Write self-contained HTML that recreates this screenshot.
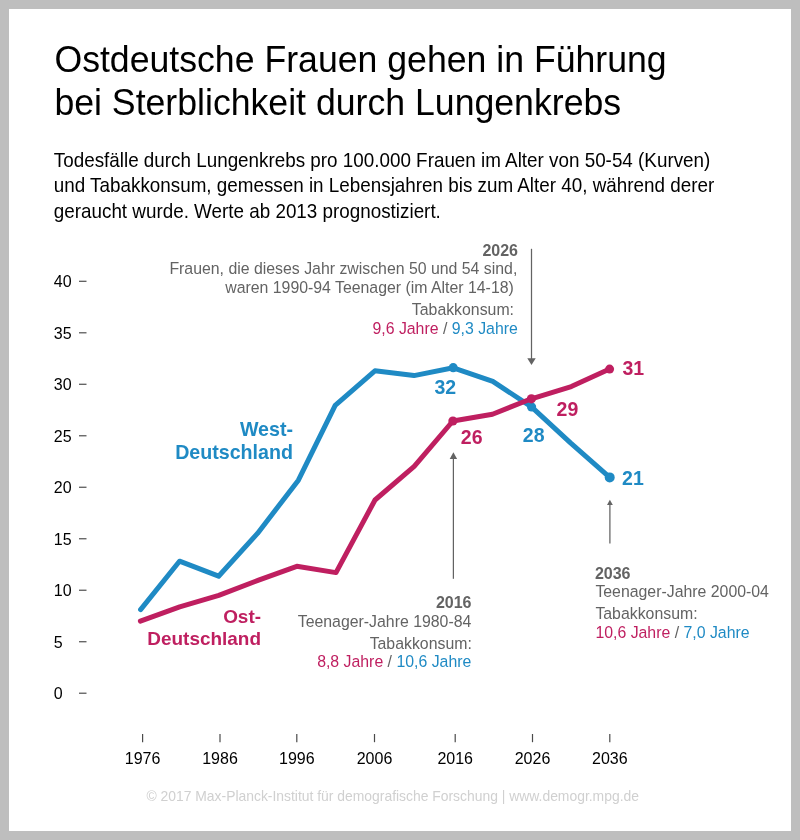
<!DOCTYPE html>
<html lang="de">
<head>
<meta charset="utf-8">
<title>Ostdeutsche Frauen gehen in Führung bei Sterblichkeit durch Lungenkrebs</title>
<style>
html,body{margin:0;padding:0;}
body{width:800px;height:840px;background:#bebebe;position:relative;overflow:hidden;font-family:"Liberation Sans",Arial,Helvetica,sans-serif;}
#card{position:absolute;left:9px;top:9px;width:782px;height:822px;background:#fff;}
svg{position:absolute;left:0;top:0;will-change:transform;filter:blur(0.3px);}
text{font-family:"Liberation Sans",Arial,Helvetica,sans-serif;}
</style>
</head>
<body>
<div id="card"></div>
<svg width="800" height="840" viewBox="0 0 800 840">
  <!-- Title -->
  <g fill="#000" font-size="35.65">
    <text transform="translate(54.4 71.5) scale(1 1.05)">Ostdeutsche Frauen gehen in Führung</text>
    <text transform="translate(54.4 115.3) scale(1 1.05)">bei Sterblichkeit durch Lungenkrebs</text>
  </g>
  <!-- Subtitle -->
  <g fill="#000" font-size="18.85">
    <text transform="translate(53.8 166.6) scale(1 1.05)">Todesfälle durch Lungenkrebs pro 100.000 Frauen im Alter von 50-54 (Kurven)</text>
    <text transform="translate(53.8 192.4) scale(1 1.05)">und Tabakkonsum, gemessen in Lebensjahren bis zum Alter 40, während derer</text>
    <text transform="translate(53.8 218.3) scale(1 1.05)">geraucht wurde. Werte ab 2013 prognostiziert.</text>
  </g>

  <!-- Y axis -->
  <g fill="#000" font-size="16">
    <text x="53.8" y="287.10">40</text>
    <text x="53.8" y="338.59">35</text>
    <text x="53.8" y="390.08">30</text>
    <text x="53.8" y="441.57">25</text>
    <text x="53.8" y="493.06">20</text>
    <text x="53.8" y="544.55">15</text>
    <text x="53.8" y="596.04">10</text>
    <text x="53.8" y="647.53">5</text>
    <text x="53.8" y="699.02">0</text>
  </g>
  <g stroke="#555" stroke-width="1.25">
    <line x1="79" x2="86.5" y1="281.30" y2="281.30"/>
    <line x1="79" x2="86.5" y1="332.79" y2="332.79"/>
    <line x1="79" x2="86.5" y1="384.28" y2="384.28"/>
    <line x1="79" x2="86.5" y1="435.77" y2="435.77"/>
    <line x1="79" x2="86.5" y1="487.26" y2="487.26"/>
    <line x1="79" x2="86.5" y1="538.75" y2="538.75"/>
    <line x1="79" x2="86.5" y1="590.24" y2="590.24"/>
    <line x1="79" x2="86.5" y1="641.73" y2="641.73"/>
    <line x1="79" x2="86.5" y1="693.22" y2="693.22"/>
  </g>

  <!-- X axis -->
  <g stroke="#4a4a4a" stroke-width="1.2">
    <line x1="142.6" x2="142.6" y1="734" y2="742.2"/>
    <line x1="220" x2="220" y1="734" y2="742.2"/>
    <line x1="296.8" x2="296.8" y1="734" y2="742.2"/>
    <line x1="374.5" x2="374.5" y1="734" y2="742.2"/>
    <line x1="455.2" x2="455.2" y1="734" y2="742.2"/>
    <line x1="532.5" x2="532.5" y1="734" y2="742.2"/>
    <line x1="609.8" x2="609.8" y1="734" y2="742.2"/>
  </g>
  <g fill="#000" font-size="16" text-anchor="middle">
    <text x="142.6" y="764.3">1976</text>
    <text x="220" y="764.3">1986</text>
    <text x="296.8" y="764.3">1996</text>
    <text x="374.5" y="764.3">2006</text>
    <text x="455.2" y="764.3">2016</text>
    <text x="532.5" y="764.3">2026</text>
    <text x="609.8" y="764.3">2036</text>
  </g>

  <!-- Arrows -->
  <g stroke="#636363" stroke-width="1.25" fill="none">
    <line x1="531.5" y1="248.8" x2="531.5" y2="359"/>
    <line x1="453.4" y1="458" x2="453.4" y2="578.8"/>
    <line x1="609.9" y1="504" x2="609.9" y2="543.6"/>
  </g>
  <g fill="#636363">
    <path d="M527.3 358.2 L535.7 358.2 L531.5 365 Z"/>
    <path d="M449.7 459 L457.1 459 L453.4 452.3 Z"/>
    <path d="M607 505 L612.8 505 L609.9 499.8 Z"/>
  </g>

  <!-- Lines -->
  <g fill="none" stroke-width="5" stroke-linejoin="round" stroke-linecap="round">
    <polyline stroke="#1f8ac4" points="140.6,609.6 179.5,561.2 218.6,576.2 257.5,533.4 298.4,480.2 335.2,405.4 374.9,370.8 414,375.6 453.3,367.8 492.8,381.4 531.5,406.8 570.5,442.9 609.7,477.4"/>
  </g>
  <g fill="#1f8ac4">
    <circle cx="453.2" cy="367.7" r="4.6"/>
    <circle cx="531.6" cy="407" r="4.6"/>
    <circle cx="609.7" cy="477.4" r="5"/>
  </g>
  <g fill="none" stroke-width="5" stroke-linejoin="round" stroke-linecap="round">
    <polyline stroke="#bf1f60" points="140.4,621.1 179.7,606.8 218.8,595.4 258.6,580.1 296.8,566.3 336,572.6 375,500 414.2,466.4 452.9,421 492.5,414.2 531.4,398.8 571.3,386.6 609.6,369"/>
  </g>
  <g fill="#bf1f60">
    <circle cx="452.9" cy="421" r="4.6"/>
    <circle cx="531.4" cy="398.8" r="4.6"/>
    <circle cx="609.6" cy="369.1" r="4.5"/>
  </g>

  <!-- Value labels -->
  <g font-size="19.5" font-weight="bold">
    <text fill="#1f8ac4" x="434.4" y="393.8">32</text>
    <text fill="#bf1f60" x="460.8" y="443.6">26</text>
    <text fill="#1f8ac4" x="522.8" y="441.8">28</text>
    <text fill="#bf1f60" x="556.6" y="415.6">29</text>
    <text fill="#bf1f60" x="622.4" y="374.8">31</text>
    <text fill="#1f8ac4" x="622.1" y="485.2">21</text>
  </g>

  <!-- Series labels -->
  <g font-weight="bold" text-anchor="end">
    <text fill="#1f8ac4" font-size="19.65" x="293" y="435.6">West-</text>
    <text fill="#1f8ac4" font-size="19.65" x="293" y="459.2">Deutschland</text>
    <text fill="#bf1f60" font-size="18.95" x="261" y="622.7">Ost-</text>
    <text fill="#bf1f60" font-size="18.95" x="261" y="645.2">Deutschland</text>
  </g>

  <!-- 2026 annotation -->
  <g font-size="15.85" text-anchor="end" fill="#636363" transform="translate(0 0.4)">
    <text x="518" y="255.5" font-size="16" font-weight="bold">2026</text>
    <text x="517.3" y="274.1">Frauen, die dieses Jahr zwischen 50 und 54 sind,</text>
    <text x="513.8" y="292.5">waren 1990-94 Teenager (im Alter 14-18)</text>
    <text x="514" y="314.4">Tabakkonsum:</text>
    <text x="517.8" y="333.2"><tspan fill="#bf1f60">9,6 Jahre</tspan> / <tspan fill="#1f8ac4">9,3 Jahre</tspan></text>
  </g>

  <!-- 2016 annotation -->
  <g font-size="15.85" text-anchor="end" fill="#636363">
    <text x="471.5" y="608" font-size="16" font-weight="bold">2016</text>
    <text x="471.3" y="626.6">Teenager-Jahre 1980-84</text>
    <text x="471.8" y="648.6">Tabakkonsum:</text>
    <text x="471.3" y="667.4"><tspan fill="#bf1f60">8,8 Jahre</tspan> / <tspan fill="#1f8ac4">10,6 Jahre</tspan></text>
  </g>

  <!-- 2036 annotation -->
  <g font-size="15.85" fill="#636363" transform="translate(-0.5 0)">
    <text x="595.4" y="578.6" font-size="16" font-weight="bold">2036</text>
    <text x="595.9" y="596.9">Teenager-Jahre 2000-04</text>
    <text x="595.9" y="618.7">Tabakkonsum:</text>
    <text x="595.9" y="637.7"><tspan fill="#bf1f60">10,6 Jahre</tspan> / <tspan fill="#1f8ac4">7,0 Jahre</tspan></text>
  </g>

  <!-- Footer -->
  <text x="392.7" y="801" font-size="13.9" fill="#d0d0d0" text-anchor="middle">© 2017 Max-Planck-Institut für demografische Forschung | www.demogr.mpg.de</text>
</svg>
</body>
</html>
